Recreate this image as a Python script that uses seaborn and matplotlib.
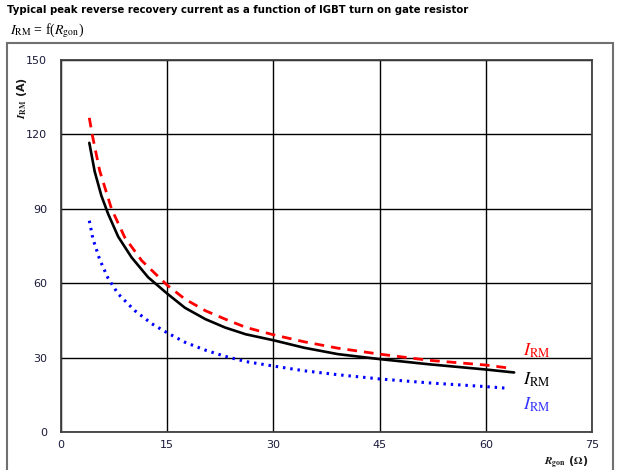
import numpy as np
import pandas as pd
import matplotlib
matplotlib.use("Agg")
import matplotlib.pyplot as plt
from matplotlib.patches import Rectangle
import seaborn as sns

# ---- data ----
x_black = [4.0, 4.76, 5.7, 6.65, 8.07, 9.97, 12.3, 15, 17.5, 20.4, 23.2, 26.1, 30,
           34.3, 39.1, 45, 52, 60, 64]
y_black = [116.6, 105.0, 95.3, 88.0, 78.8, 70.4, 62.4, 55.8, 50.1, 45.5, 42.1, 39.4, 37.0,
           34.0, 31.4, 29.4, 27.3, 25.2, 24.0]

x_red = [4.0, 4.4, 5.47, 7.13, 9.0, 11.4, 15, 17.5, 20.4, 23.2, 26.1, 30,
         34.3, 39.1, 45, 52, 60, 63.5]
y_red = [126.7, 120, 105.3, 90, 78.5, 69.1, 59.2, 53.6, 48.9, 45.5, 42.2, 39.2,
         36.4, 33.8, 31.4, 28.9, 27.0, 25.7]

x_blue = [4.0, 4.5, 5.47, 6.65, 8.07, 10.4, 12.8, 15, 17.5, 20.4, 23.2, 26.1, 30,
          34.3, 39.1, 45, 52, 60, 63.2]
y_blue = [85.2, 78.0, 69.5, 62.0, 55.7, 49.0, 43.7, 40.0, 36.2, 33.0, 30.5, 28.4, 26.6,
          24.7, 23.1, 21.4, 19.8, 18.3, 17.6]

x_ticks = [0, 15, 30, 45, 60, 75]
y_ticks = [0, 30, 60, 90, 120, 150]

title = "Typical peak reverse recovery current as a function of IGBT turn on gate resistor"
subtitle = r"$I_{\mathrm{RM}}$ = f($R_{\mathrm{gon}}$)"
curve_label = r"$I_{\mathrm{RM}}$"

sns.set_theme(style="white")
plt.rcParams["font.family"] = ["DejaVu Sans"]
plt.rcParams["mathtext.fontset"] = "stix"

fig = plt.figure(figsize=(6.22, 4.70), dpi=100)
ax = fig.add_axes([61 / 622, 1 - 432 / 470, 531 / 622, 372 / 470])

sns.lineplot(x=x_black, y=y_black, ax=ax, color="black", lw=1.9, sort=False)
sns.lineplot(x=x_red, y=y_red, ax=ax, color="#ff0000", lw=2.0, sort=False,
             linestyle=(0, (3.5, 2.5)))
sns.lineplot(x=x_blue, y=y_blue, ax=ax, color="#0000ff", lw=2.2, sort=False,
             linestyle=(0, (0.8, 1.6)))

ax.set_xlim(0, 75)
ax.set_ylim(0, 150)
ax.set_xticks(x_ticks)
ax.set_yticks(y_ticks)
ax.grid(True, color="black", lw=1.0)
ax.set_axisbelow(True)
for s in ax.spines.values():
    s.set_color("#404040")
    s.set_linewidth(1.3)
ax.tick_params(axis="both", labelsize=8, colors="#1a1a3a", length=0, pad=6)
ax.tick_params(axis="y", pad=10)
ax.set_xlabel("")
ax.set_ylabel("")

# axis labels
fig.text(22 / 622, 1 - 98 / 470, r"$\boldsymbol{I}_{\mathbf{RM}}$ (A)", rotation=90,
         fontsize=8, fontweight="bold", ha="center", va="center", color="#1a1a1a")
fig.text(566 / 622, 1 - 463 / 470, r"$\boldsymbol{R}_{\mathbf{gon}}$ ($\mathbf{\Omega}$)",
         fontsize=8, fontweight="bold", ha="center", va="center", color="#1a1a1a")

# curve labels
ax.text(65.3, 29.0, curve_label, color="#ff0000", fontsize=13, va="bottom")
ax.text(65.3, 17.5, curve_label, color="black", fontsize=13, va="bottom")
ax.text(65.3, 7.3, curve_label, color="#3333ff", fontsize=13, va="bottom")

# title and subtitle
fig.text(7 / 622, 1 - 10 / 470, title, fontsize=7.3, fontweight="bold",
         ha="left", va="center", color="black")
fig.text(10 / 622, 1 - 31 / 470, subtitle, fontsize=10, ha="left", va="center",
         color="black", family="Liberation Serif")

# outer frame
fig.patches.append(Rectangle((7 / 622, -0.05), 606 / 622, 0.05 + (1 - 43 / 470),
                             transform=fig.transFigure, fill=False,
                             edgecolor="#707070", lw=1.5))

fig.savefig("out.png", dpi=100)
